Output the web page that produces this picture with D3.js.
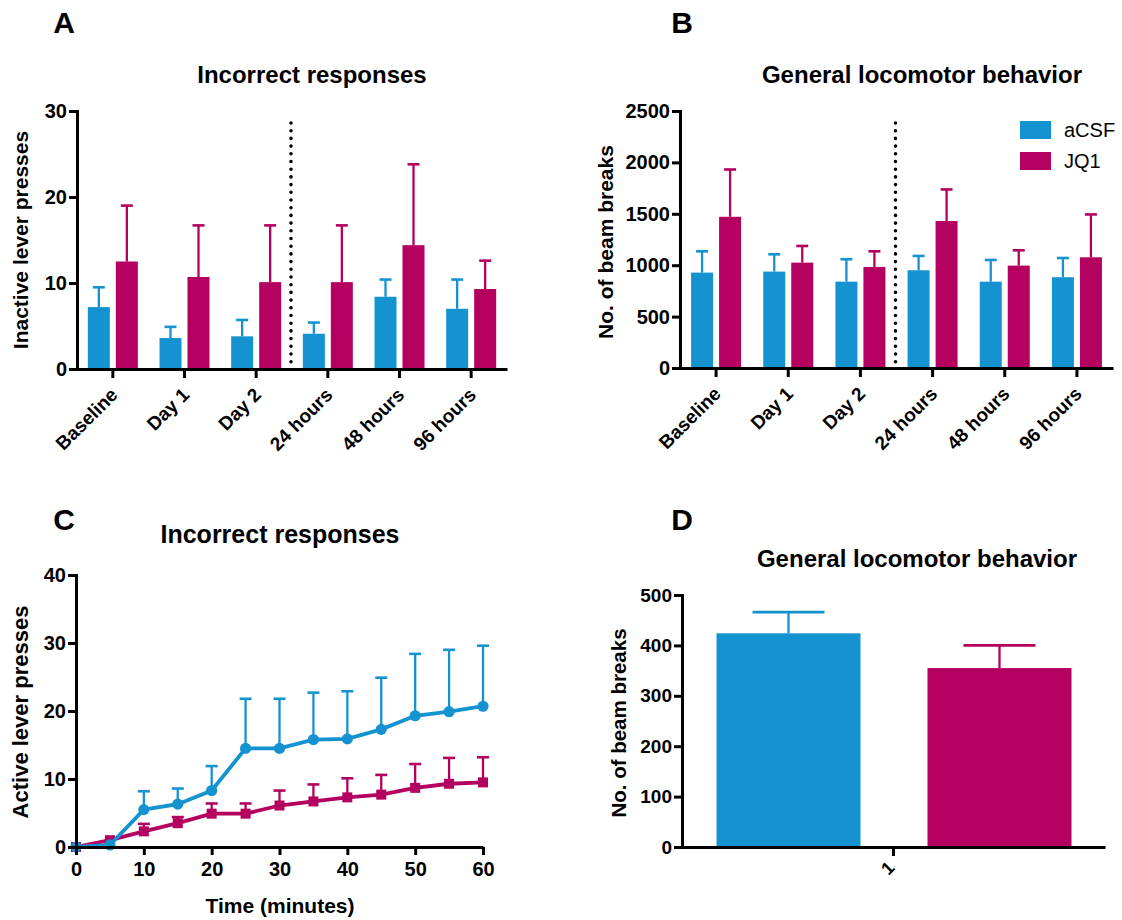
<html>
  <head>
    <title>JQ1 figure</title>
    <script src="https://d3js.org/d3.v7.min.js"></script>
    <style>
      body { margin: 0; background: white; }
      svg { display: block; }
    </style>
  </head>
  <body>
    <svg id="fig" width="1122" height="920"></svg>
    <script>
      // ---- data ----
      const groups = ['Baseline', 'Day 1', 'Day 2', '24 hours', '48 hours', '96 hours'];
      const seriesNames = ['aCSF', 'JQ1'];

      // A: inactive lever presses (mean, SEM)
      const inactiveACSF = [7.2, 3.6, 3.8, 4.1, 8.4, 7.0];
      const inactiveACSFSem = [2.3, 1.3, 1.9, 1.3, 2.0, 3.4];
      const inactiveJQ1 = [12.5, 10.7, 10.1, 10.1, 14.4, 9.3];
      const inactiveJQ1Sem = [6.5, 6.0, 6.6, 6.6, 9.4, 3.3];

      // B: beam breaks
      const beamACSF = [928, 938, 840, 951, 840, 883];
      const beamACSFSem = [207, 168, 218, 139, 211, 187];
      const beamJQ1 = [1471, 1025, 983, 1430, 996, 1077];
      const beamJQ1Sem = [460, 162, 152, 307, 149, 417];

      // C: active lever presses over time
      const minutes = [0, 5, 10, 15, 20, 25, 30, 35, 40, 45, 50, 55, 60];
      const activeACSF = [0, 0.3, 5.5, 6.3, 8.3, 14.5, 14.5, 15.8, 15.9, 17.3, 19.3, 19.9, 20.7];
      const activeACSFSem = [0, 0, 2.7, 2.3, 3.6, 7.3, 7.3, 6.9, 7.0, 7.6, 9.1, 9.1, 8.9];
      const activeJQ1 = [0, 1.0, 2.3, 3.5, 4.9, 4.9, 6.1, 6.7, 7.3, 7.7, 8.7, 9.3, 9.5];
      const activeJQ1Sem = [0, 0, 1.1, 0.9, 1.5, 1.5, 2.2, 2.5, 2.8, 2.9, 3.5, 3.8, 3.7];

      // D: single session beam breaks
      const sessionCats = ['1'];
      const sessionACSF = [424];
      const sessionACSFSem = [42];
      const sessionJQ1 = [355];
      const sessionJQ1Sem = [45];

      const blue = '#1593d1';
      const magenta = '#b4005f';
      const font = "'Liberation Sans', Arial, sans-serif";

      const svg = d3.select('svg#fig');
      svg.append('rect').attr('width', 1122).attr('height', 920).attr('fill', 'white');

      function styleAxis(g, size) {
        g.selectAll('.domain').attr('stroke', 'black').attr('stroke-width', 3);
        g.selectAll('.tick line').attr('stroke', 'black').attr('stroke-width', 3);
        g.selectAll('text').attr('font-family', font).attr('font-weight', 'bold')
          .attr('font-size', size).attr('fill', 'black');
      }

      function label(x, y, txt, size, weight, rot) {
        let t = svg.append('text').attr('x', x).attr('y', y)
          .attr('font-family', font).attr('font-weight', weight || 'bold')
          .attr('font-size', size).attr('text-anchor', 'middle').text(txt);
        if (rot) t.attr('transform', `rotate(${rot},${x},${y})`);
        return t;
      }

      // error bar (upper only) with cap
      function errBar(g, x, y0, y1, color, cap) {
        g.append('line').attr('x1', x).attr('x2', x).attr('y1', y0).attr('y2', y1)
          .attr('stroke', color).attr('stroke-width', 2.3);
        g.append('line').attr('x1', x - cap / 2).attr('x2', x + cap / 2).attr('y1', y1).attr('y2', y1)
          .attr('stroke', color).attr('stroke-width', 2.6);
      }

      // grouped bar panel (A and B)
      function barPanel(opts) {
        const x = d3.scaleBand().domain(groups).range([opts.left, opts.right]);
        const y = d3.scaleLinear().domain([0, opts.max]).range([opts.bottom, opts.top]);
        const g = svg.append('g');
        const series = [
          {vals: opts.a, sem: opts.aSem, color: blue, off: -25},
          {vals: opts.b, sem: opts.bSem, color: magenta, off: 3}
        ];
        const bw = 22;
        series.forEach(s => {
          groups.forEach((grp, i) => {
            const cx = x(grp) + x.bandwidth() / 2 + s.off;
            errBar(g, cx + bw / 2, y(s.vals[i]), y(s.vals[i] + s.sem[i]), s.color, 12);
            g.append('rect').attr('x', cx).attr('y', y(s.vals[i]))
              .attr('width', bw).attr('height', y(0) - y(s.vals[i]))
              .attr('fill', s.color);
          });
        });
        // dotted divider between acquisition and post days
        const dx = x(groups[3]) - 1;
        g.append('line').attr('x1', dx).attr('x2', dx)
          .attr('y1', opts.top + 12).attr('y2', opts.bottom - 2)
          .attr('stroke', 'black').attr('stroke-width', 3.6)
          .attr('stroke-linecap', 'round').attr('stroke-dasharray', '0,7.7');

        const ya = svg.append('g').attr('transform', `translate(${opts.left},0)`)
          .call(d3.axisLeft(y).tickValues(opts.ticks).tickFormat(d3.format('d')).tickSize(8).tickPadding(2));
        styleAxis(ya, 20);
        const xa = svg.append('g').attr('transform', `translate(0,${opts.bottom})`)
          .call(d3.axisBottom(x).tickSize(9).tickSizeOuter(0));
        styleAxis(xa, 19);
        xa.selectAll('.tick text').attr('x', 0).attr('y', 0).attr('dy', 0)
          .attr('text-anchor', 'end').attr('transform', 'translate(6,27) rotate(-45)');
      }

      barPanel({left: 77, right: 507, top: 111, bottom: 369, max: 30, ticks: [0, 10, 20, 30],
        a: inactiveACSF, aSem: inactiveACSFSem, b: inactiveJQ1, bSem: inactiveJQ1Sem});
      barPanel({left: 680, right: 1113, top: 111, bottom: 368, max: 2500,
        ticks: [0, 500, 1000, 1500, 2000, 2500],
        a: beamACSF, aSem: beamACSFSem, b: beamJQ1, bSem: beamJQ1Sem});

      // legend (panel B)
      seriesNames.forEach((n, i) => {
        const c = i === 0 ? blue : magenta;
        svg.append('rect').attr('x', 1020).attr('y', 121 + i * 31).attr('width', 31).attr('height', 18).attr('fill', c);
        svg.append('text').attr('x', 1064).attr('y', 137 + i * 31).attr('font-family', font)
          .attr('font-size', 20).text(n);
      });

      // ---- panel C: line chart ----
      {
        const x = d3.scaleLinear().domain([0, 60]).range([76, 483]);
        const y = d3.scaleLinear().domain([0, 40]).range([847, 575]);
        const g = svg.append('g');
        const lines = [
          {vals: activeJQ1, sem: activeJQ1Sem, color: magenta, shape: 'square'},
          {vals: activeACSF, sem: activeACSFSem, color: blue, shape: 'circle'}
        ];
        const ya = svg.append('g').attr('transform', 'translate(76,0)')
          .call(d3.axisLeft(y).tickValues([0, 10, 20, 30, 40]).tickSize(8).tickPadding(2));
        styleAxis(ya, 20);
        const xa = svg.append('g').attr('transform', 'translate(0,847)')
          .call(d3.axisBottom(x).tickValues([0, 10, 20, 30, 40, 50, 60]).tickSize(8).tickPadding(7).tickSizeOuter(0));
        styleAxis(xa, 20);
        lines.forEach(s => {
          minutes.forEach((m, i) => {
            if (s.sem[i] > 0) errBar(g, x(m), y(s.vals[i]), y(s.vals[i] + s.sem[i]), s.color, 12);
          });
          g.append('path').datum(s.vals)
            .attr('d', d3.line().x((d, i) => x(minutes[i])).y(d => y(d)))
            .attr('fill', 'none').attr('stroke', s.color).attr('stroke-width', 3.8);
          minutes.forEach((m, i) => {
            if (s.shape === 'circle') {
              g.append('circle').attr('cx', x(m)).attr('cy', y(s.vals[i])).attr('r', 5.6).attr('fill', s.color);
            } else {
              g.append('rect').attr('x', x(m) - 5).attr('y', y(s.vals[i]) - 5)
                .attr('width', 10).attr('height', 10).attr('fill', s.color);
            }
          });
        });
      }

      // ---- panel D: two bars ----
      {
        const x = d3.scaleBand().domain(sessionCats).range([682, 1105]);
        const y = d3.scaleLinear().domain([0, 500]).range([847, 595]);
        const g = svg.append('g');
        const bars = [
          {vals: sessionACSF, sem: sessionACSFSem, color: blue, off: -177},
          {vals: sessionJQ1, sem: sessionJQ1Sem, color: magenta, off: 34}
        ];
        bars.forEach(s => {
          const cx = x(sessionCats[0]) + x.bandwidth() / 2 + s.off;
          errBar(g, cx + 72, y(s.vals[0]), y(s.vals[0] + s.sem[0]), s.color, 72);
          g.append('rect').attr('x', cx).attr('y', y(s.vals[0]))
            .attr('width', 144).attr('height', y(0) - y(s.vals[0])).attr('fill', s.color);
        });
        const ya = svg.append('g').attr('transform', 'translate(682,0)')
          .call(d3.axisLeft(y).tickValues([0, 100, 200, 300, 400, 500]).tickSize(8).tickPadding(2));
        styleAxis(ya, 19);
        const xa = svg.append('g').attr('transform', 'translate(0,847)')
          .call(d3.axisBottom(x).tickSize(9).tickSizeOuter(0));
        styleAxis(xa, 18);
        xa.selectAll('.tick text').attr('x', 0).attr('y', 0).attr('dy', 0)
          .attr('text-anchor', 'end').attr('transform', 'translate(2,22) rotate(-45)');
      }

      // ---- titles and labels ----
      label(64, 33, 'A', 30);
      label(682, 33, 'B', 30);
      label(64, 530, 'C', 30);
      label(682, 530, 'D', 30);
      label(312, 83, 'Incorrect responses', 24);
      label(922, 83, 'General locomotor behavior', 24);
      label(280, 543, 'Incorrect responses', 25);
      label(917, 567, 'General locomotor behavior', 24);

      label(28, 240, 'Inactive lever presses', 21, 'bold', -90);
      label(613, 242, 'No. of beam breaks', 21, 'bold', -90);
      label(28, 712, 'Active lever presses', 22, 'bold', -90);
      label(626, 723, 'No. of beam breaks', 20.5, 'bold', -90);
      label(280, 913, 'Time (minutes)', 21);
    </script>
  </body>
</html>
